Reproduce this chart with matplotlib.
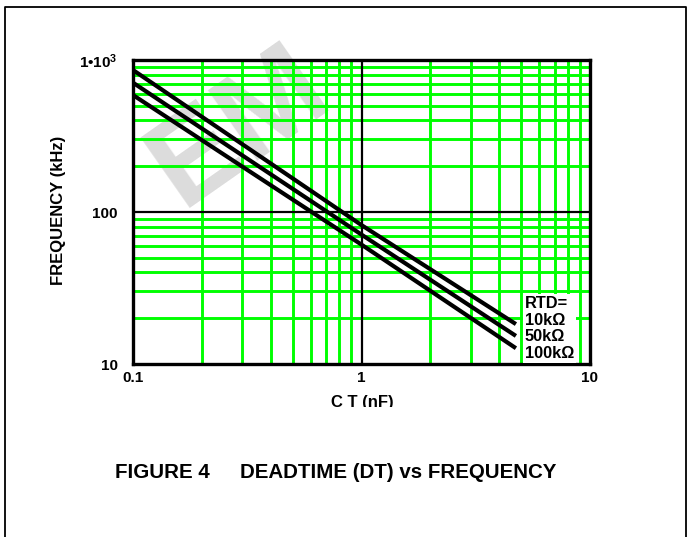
import matplotlib
matplotlib.use("Agg")
import matplotlib.pyplot as plt
from matplotlib.lines import Line2D
from matplotlib.transforms import Bbox, TransformedBbox
from matplotlib.ticker import FixedLocator, NullFormatter

plt.rcParams['font.family'] = ['Liberation Sans', 'DejaVu Sans']
plt.rcParams['mathtext.fontset'] = 'custom'
plt.rcParams['mathtext.rm'] = 'Liberation Sans:bold'
plt.rcParams['mathtext.bf'] = 'Liberation Sans:bold'
plt.rcParams['mathtext.it'] = 'Liberation Sans:bold'

# ---- data ----
ct_nf = [0.1, 1.0, 4.74]
freq_10k = [859, 82, 18.3]
freq_50k = [709, 71, 15.3]
freq_100k = [588, 61, 12.7]
legend_lines = ["RTD=", "10k\u03A9", "50k\u03A9", "100k\u03A9"]
x_ticks = [0.1, 1, 10]
x_tick_labels = ["0.1", "1", "10"]
y_ticks = [10, 100, 1000]
y_tick_labels = ["10", "100", "1\u202210$^{3}$"]

W, H = 690, 537
fig = plt.figure(figsize=(W / 100, H / 100), dpi=100)

def fx(px):
    return px / W

def fy(py):
    return 1 - py / H

ax = fig.add_axes([fx(133), fy(364), fx(590) - fx(133), fy(60) - fy(364)])
ax.set_facecolor('none')
ax.set_xscale('log')
ax.set_yscale('log')
ax.set_xlim(0.1, 10)
ax.set_ylim(10, 1000)

# grid
ax.set_axisbelow(True)
ax.xaxis.set_minor_locator(FixedLocator([m * d for d in (0.1, 1) for m in range(2, 10)]))
ax.yaxis.set_minor_locator(FixedLocator([m * d for d in (10, 100) for m in range(2, 10)]))
ax.xaxis.set_minor_formatter(NullFormatter())
ax.yaxis.set_minor_formatter(NullFormatter())
ax.grid(which='minor', color='#00ff00', lw=2.1)
ax.grid(which='major', visible=False)
ax.axvline(1, color='black', lw=1.6, zorder=1)
ax.axhline(100, color='black', lw=1.6, zorder=1)

# curves
for ys in (freq_10k, freq_50k, freq_100k):
    ax.plot(ct_nf, ys, color='black', lw=3.0, solid_capstyle='butt', zorder=3)

# ticks
ax.set_xticks(x_ticks)
ax.set_xticklabels(x_tick_labels, fontsize=11, fontweight='bold')
ax.set_yticks(y_ticks)
ax.set_yticklabels(y_tick_labels, fontsize=11, fontweight='bold')
ax.tick_params(which='both', length=0)
ax.tick_params(axis='x', pad=5)
ax.tick_params(axis='y', pad=11)
for s in ax.spines.values():
    s.set_linewidth(2.4)
    s.set_color('black')

# legend text block
ax.text(0.857, 0.117, "\n".join(legend_lines), transform=ax.transAxes,
        ha='left', va='center', fontsize=11.8, fontweight='bold', linespacing=1.12,
        bbox=dict(facecolor='white', edgecolor='none', pad=1.5), zorder=4)

# y label
fig.text(fx(58), fy(210), "FREQUENCY (kHz)", rotation=90, ha='center', va='center',
         fontsize=12, fontweight='bold')

# x label (bottom clipped as in the original)
xl = fig.text(fx(362), fy(403), "C T (nF)", ha='center', va='center',
              fontsize=12, fontweight='bold')
xl.set_clip_box(TransformedBbox(Bbox([[0, fy(407)], [1, 1]]), fig.transFigure))
xl.set_clip_on(True)

# caption
fig.text(fx(115), fy(473), "FIGURE 4", ha='left', va='center', fontsize=14.8,
         fontweight='bold')
fig.text(fx(240), fy(473), "DEADTIME (DT) vs FREQUENCY", ha='left', va='center',
         fontsize=14.8, fontweight='bold')

# watermark
fig.text(fx(240), fy(128), "EM", rotation=35, ha='center', va='center', fontsize=90,
         fontweight='bold', color='#dcdcdc', zorder=-1)

# outer frame
fig.add_artist(Line2D([fx(5), fx(5), fx(686), fx(686)], [0, fy(7), fy(7), 0],
                      color='black', lw=1.3, transform=fig.transFigure))

fig.savefig("out.png", dpi=100)
